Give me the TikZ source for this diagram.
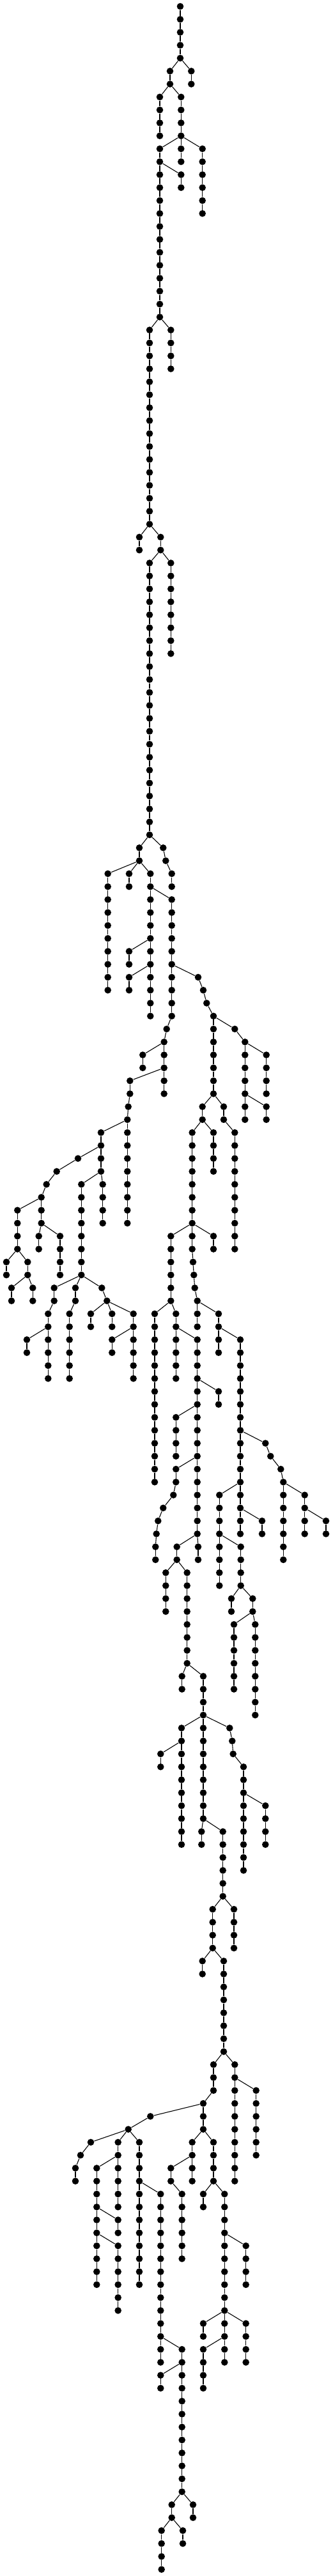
\documentclass[tikz,border=0pt]{standalone}
\usepackage{tikz}

% a vertical run of dots, one per level, joined top to bottom
\newcommand\dotchain[4]{%
  \foreach \k in {#3,...,#4}{%
    \node[dot] (#1-\k) at (#2,\k) {};
    \ifnum\k>#3\relax
      \pgfmathtruncatemacro\kprev{\k-1}%
      \draw[link] (#1-\kprev) -- (#1-\k);
    \fi
  }%
}

\begin{document}
\begin{tikzpicture}[x=0.5pt,y=-10.133pt,
    dot/.style={circle,fill=black,inner sep=0pt,minimum size=5.3pt},
    link/.style={line width=0.55pt}]
    \useasboundingbox (0,-0.4934) rectangle (520,198.51);
    % runs: name/x/first level/last level
    \foreach \n/\x/\a/\b in {T/282/0/4, A/299.3/5/6, B/266/5/6, C/250/7/10,
        D/283.3/7/10, E/283.3/11/12, F/250/11/12, G/316.7/11/16, H/283.3/13/14,
        I/250/13/24, J/267.3/25/28, K/234/25/40, L/218/41/42, M/251.3/41/42,
        N/234/43/64, O/267.3/43/50, P/218/65/66, Qa/255.3/65/65, Qb/259.3/66/66,
        Qc/268.7/67/68, R/168.7/67/76, S/202/67/68, U/235.3/67/78, V/268.7/69/78,
        W/202/73/74, X/202/75/76, Ya/310/75/75, Yb/318/76/76, Yc/323.3/77/77,
        Z/334/78/84, Va/260.7/79/79, Vb/256.7/80/84, Vc/223.3/81/82,
        Vd/203.3/83/84, Ve/200.7/85/85, Vf/199.3/86/94}
        {\dotchain{\n}{\x}{\a}{\b}}
    % left fan
    \foreach \n/\x/\a/\b in {Ga/158/87/90, Gb/122/89/89, Gc/88.7/90/90,
        Gd/72.7/91/91, Ge/64.7/92/94, Gf/127.3/91/98, Gg/160.7/91/94,
        Gh/27.3/93/96, Gi/60.7/95/96, Gj/94/95/98, Gk/10/97/98, Gl/43.3/97/98,
        Gm/18/99/100, Gn/51.3/99/100, Go/84.7/99/100, Gp/118/99/100,
        Gq/159.3/99/99, Gr/75.3/101/106, Gs/42/103/104, Gt/108.7/101/106,
        Gu/167.3/100/100, Gv/142/101/102, Gw/175.3/101/102, Gx/208.7/101/106,
        Gy/175.3/103/104}
        {\dotchain{\n}{\x}{\a}{\b}}
    % right side
    \foreach \n/\x/\a/\b in {Za/367.3/79/79, Zb/383.3/80/86, Zc/416.7/81/84,
        Zd/416.7/85/86, Ze/316.7/85/86, Zf/350/85/86, Zg/300.7/87/94,
        Zh/334/87/90, Zi/367.3/87/96, Zj/267.3/95/100, Zk/300.7/95/96,
        Zl/334/95/96, Zm/302/97/97, Zn/303.3/98/98, Zo/304.7/99/99,
        Zp/308.7/100/102, Zq/342/101/104, Zs/376/103/118, Zt/415.3/111/111,
        Zu/423.3/112/112, Zv/439.3/113/113, Zw/443.3/114/120, Zx/476.7/115/118,
        Zy/510/117/118, Zz/410/117/118, Ra/343.3/115/122, Rb/376.7/119/122,
        Rc/362/123/124, Rd/395.3/123/124, Re/366/125/130, Rf/399.3/125/132}
        {\dotchain{\n}{\x}{\a}{\b}}
    % lower trunk
    \foreach \n/\x/\a/\b in {Ka/242/101/114, Kb/275.3/101/106, Kc/308.7/103/118,
        Kd/342/107/108, Ke/275.3/109/112, Kf/275.3/113/114, Kg/271.3/115/115,
        Kh/255.3/116/116, Ki/247.3/117/117, Kj/244.7/118/118, Kk/243.3/119/120,
        Kl/276.7/119/120, Km/310/119/120, Kn/259.3/121/124, Ko/292.7/121/128,
        Kp/284.7/129/130, Kq/318/129/140, Kr/284/133/142, Ks/251.3/135/136,
        Kt/359.3/133/133, Ku/363.3/134/134, Kv/364.7/135/135, Kw/381/136/144,
        Kx/415.3/139/142, Ky/315.3/141/142, Kz/348.7/141/146, La/332.7/147/150,
        Lb/366/147/150, Lc/316.7/151/152, Ld/350/151/158, Le/334/159/161,
        Lf/367.3/159/168, Lg/318/162/164, Lh/235.3/163/163, Li/200.7/164/164,
        Lj/300.7/165/168, Lk/334/165/168, Ll/400.7/161/166, Lm/142/165/165,
        Ln/126/166/166, Lo/118/167/168, Lp/184.7/165/170, Lq/218/165/176,
        Lr/151.3/167/176, Ls/184.7/171/172, Lt/184.7/173/178, Lu/251.3/169/182,
        Lv/284.7/181/192, Lw/251.3/183/184, Lx/268.7/193/194, Ly/302/193/194,
        Lz/252.7/195/198, Na/286/195/196, Nb/267.3/167/168, Nc/284.7/169/174,
        Nd/318/169/170, Ne/351.3/169/182, Nf/384.7/173/176, Ng/318/179/180,
        Nh/384.7/179/182, Ni/318/181/184}
        {\dotchain{\n}{\x}{\a}{\b}}
    % branches
    \foreach \p/\c in {T-4/A-5, T-4/B-5, B-6/C-7, B-6/D-7, D-10/E-11, D-10/F-11,
        D-10/G-11, F-12/H-13, F-12/I-13, I-24/J-25, I-24/K-25, K-40/L-41,
        K-40/M-41, M-42/N-43, M-42/O-43, N-64/P-65, N-64/Qa-65, Qa-65/Qb-66,
        Qb-66/Qc-67, P-66/R-67, P-66/S-67, P-66/U-67, U-68/V-69, U-72/W-73,
        U-74/X-75, V-74/Ya-75, Ya-75/Yb-76, Yb-76/Yc-77, Yc-77/Z-78, V-78/Va-79,
        Va-79/Vb-80, Vb-80/Vc-81, Vb-82/Vd-83, Vd-84/Ve-85, Ve-85/Vf-86}
        \draw[link] (\p) -- (\c);
    \foreach \p/\c in {Vf-86/Ga-87, Ga-88/Gb-89, Gb-89/Gc-90, Gc-90/Gd-91,
        Gd-91/Ge-92, Ga-90/Gf-91, Ga-90/Gg-91, Ge-92/Gh-93, Ge-94/Gi-95,
        Ge-94/Gj-95, Gh-96/Gk-97, Gh-96/Gl-97, Gl-98/Gm-99, Gl-98/Gn-99,
        Gf-98/Go-99, Gf-98/Gp-99, Gf-98/Gq-99, Go-100/Gr-101, Gr-102/Gs-103,
        Gp-100/Gt-101, Gq-99/Gu-100, Gu-100/Gv-101, Gu-100/Gw-101,
        Gu-100/Gx-101, Gx-102/Gy-103}
        \draw[link] (\p) -- (\c);
    \foreach \p/\c in {Z-78/Za-79, Za-79/Zb-80, Zb-80/Zc-81, Zb-84/Zd-85,
        Z-84/Ze-85, Z-84/Zf-85, Ze-86/Zg-87, Ze-86/Zh-87, Zf-86/Zi-87,
        Zg-94/Zj-95, Zg-94/Zk-95, Zg-94/Zl-95, Zk-96/Zm-97, Zm-97/Zn-98,
        Zn-98/Zo-99, Zo-99/Zp-100, Zp-100/Zq-101, Zq-102/Zs-103, Zs-110/Zt-111,
        Zt-111/Zu-112, Zu-112/Zv-113, Zv-113/Zw-114, Zw-114/Zx-115,
        Zx-116/Zy-117, Zs-116/Zz-117, Zs-114/Ra-115, Ra-118/Rb-119,
        Rb-122/Rc-123, Rb-122/Rd-123, Rd-124/Re-125, Rd-124/Rf-125}
        \draw[link] (\p) -- (\c);
    \foreach \p/\c in {Zj-100/Ka-101, Zj-100/Kb-101, Kb-102/Kc-103,
        Kc-106/Kd-107, Kc-108/Ke-109, Kc-112/Kf-113, Kf-114/Kg-115,
        Kg-115/Kh-116, Kh-116/Ki-117, Ki-117/Kj-118, Kj-118/Kk-119,
        Kc-118/Kl-119, Kc-118/Km-119, Kl-120/Kn-121, Kl-120/Ko-121,
        Ko-128/Kp-129, Ko-128/Kq-129, Kq-132/Kr-133, Kr-134/Ks-135,
        Kq-132/Kt-133, Kt-133/Ku-134, Ku-134/Kv-135, Kv-135/Kw-136,
        Kw-138/Kx-139, Kq-140/Ky-141, Kq-140/Kz-141, Kz-146/La-147,
        Kz-146/Lb-147, La-150/Lc-151, La-150/Ld-151, Ld-158/Le-159,
        Ld-158/Lf-159, Le-161/Lg-162, Lg-162/Lh-163, Lh-163/Li-164,
        Lg-164/Lj-165, Lg-164/Lk-165, Lf-160/Ll-161, Li-164/Lm-165,
        Lm-165/Ln-166, Ln-166/Lo-167, Li-164/Lp-165, Li-164/Lq-165,
        Lp-166/Lr-167, Lr-170/Ls-171, Lr-172/Lt-173, Lq-168/Lu-169,
        Lu-180/Lv-181, Lv-182/Lw-183, Lv-192/Lx-193, Lv-192/Ly-193,
        Lx-194/Lz-195, Lx-194/Na-195, Lj-166/Nb-167, Nb-168/Nc-169,
        Lk-168/Nd-169, Lk-168/Ne-169, Ne-172/Nf-173, Ne-178/Ng-179,
        Ne-178/Nh-179, Ne-180/Ni-181}
        \draw[link] (\p) -- (\c);
\end{tikzpicture}
\end{document}
